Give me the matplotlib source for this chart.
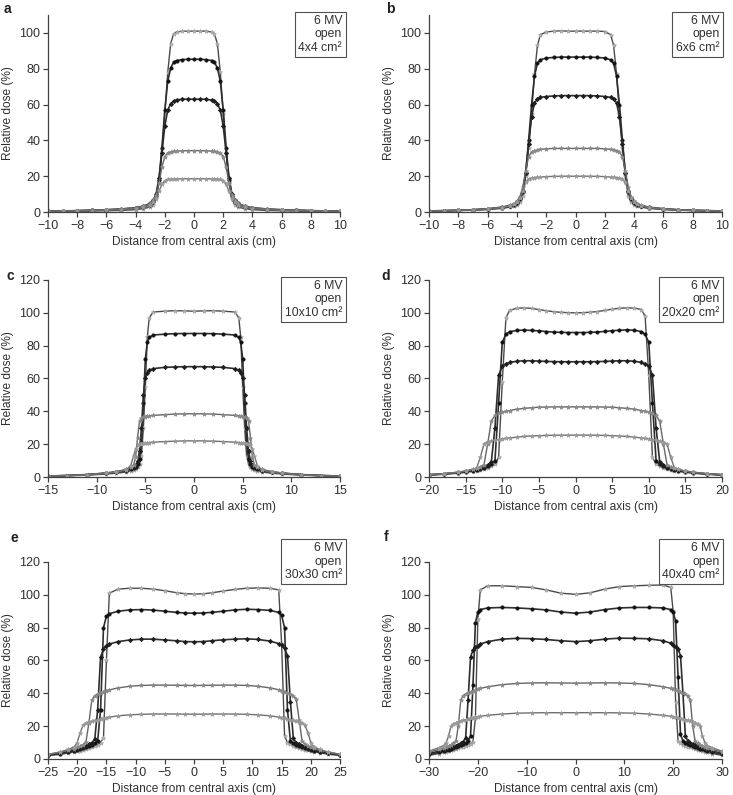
import matplotlib
matplotlib.use('Agg')
import matplotlib.pyplot as plt

# Off-axis dose profiles, 6 MV open fields, five depths per field size
# (order of the curves: dmax, 5, 10, 20, 30 cm)

a_x = [-10, -9, -8, -7, -6, -5, -4, -3.5, -3, -2.8, -2.6, -2.4, -2.2, -2, -1.8, -1.6, -1.4, -1.2, -0.8, -0.4,
       0, 0.4, 0.8, 1.2, 1.4, 1.6, 1.8, 2, 2.2, 2.4, 2.6, 2.8, 3, 3.5, 4, 5, 6, 7, 8, 9, 10]
a_y = [
    [0.4, 0.5, 0.5, 0.6, 0.7, 0.9, 1.3, 1.8, 2.8, 4, 7, 16, 33, 55, 78, 94, 99.5, 100.5, 101, 101,
     101, 101, 101, 100.5, 99.5, 94, 78, 55, 33, 16, 7, 4, 2.8, 1.8, 1.3, 0.9, 0.7, 0.6, 0.5, 0.5, 0.4],
    [0.5, 0.6, 0.7, 0.9, 1.1, 1.4, 2.0, 2.7, 4.2, 5.5, 9, 18, 36, 57, 73, 80.5, 83.5, 84.6, 85.1, 85.3,
     85.3, 85.3, 85.1, 84.6, 83.5, 80.5, 73, 57, 36, 18, 9, 5.5, 4.2, 2.7, 2.0, 1.4, 1.1, 0.9, 0.7, 0.6, 0.5],
    [0.5, 0.6, 0.8, 1.0, 1.3, 1.7, 2.4, 3.2, 4.8, 6.5, 10, 19, 33, 48, 57, 60.5, 62, 62.5, 63, 63,
     63, 63, 63, 62.5, 62, 60.5, 57, 48, 33, 19, 10, 6.5, 4.8, 3.2, 2.4, 1.7, 1.3, 1.0, 0.8, 0.6, 0.5],
    [0.5, 0.6, 0.8, 1.0, 1.3, 1.7, 2.4, 3.2, 4.8, 6.5, 9.5, 16, 25, 31, 33, 33.5, 34, 34, 34.2, 34.3,
     34.3, 34.3, 34.2, 34, 34, 33.5, 33, 31, 25, 16, 9.5, 6.5, 4.8, 3.2, 2.4, 1.7, 1.3, 1.0, 0.8, 0.6, 0.5],
    [0.4, 0.5, 0.6, 0.8, 1.0, 1.3, 1.9, 2.6, 4, 5.5, 8, 11.5, 15.5, 17.5, 18.2, 18.4, 18.5, 18.5, 18.6, 18.6,
     18.6, 18.6, 18.6, 18.5, 18.5, 18.4, 18.2, 17.5, 15.5, 11.5, 8, 5.5, 4, 2.6, 1.9, 1.3, 1.0, 0.8, 0.6, 0.5, 0.4],
]

b_x = [-10, -9, -8, -7, -6, -5, -4.5, -4.2, -4, -3.8, -3.6, -3.4, -3.2, -3, -2.8, -2.6, -2.4, -2, -1.5, -1, -0.5,
       0, 0.5, 1, 1.5, 2, 2.4, 2.6, 2.8, 3, 3.2, 3.4, 3.6, 3.8, 4, 4.2, 4.5, 5, 6, 7, 8, 9, 10]
b_y = [
    [0.5, 0.6, 0.8, 1.0, 1.4, 2.0, 2.7, 3.4, 4.2, 5.5, 9, 20, 36, 55, 77, 93, 99, 100.5, 101, 101.2, 101,
     101, 101, 101, 101, 100.8, 99, 93, 77, 55, 36, 20, 9, 5.5, 4.2, 3.4, 2.7, 2.0, 1.4, 1.0, 0.8, 0.6, 0.5],
    [0.6, 0.7, 0.9, 1.2, 1.6, 2.4, 3.2, 4.2, 5.2, 7, 11, 22, 40, 60, 76, 83, 85, 86, 86.3, 86.5, 86.5,
     86.5, 86.5, 86.5, 86.3, 86, 85, 83, 76, 60, 40, 22, 11, 7, 5.2, 4.2, 3.2, 2.4, 1.6, 1.2, 0.9, 0.7, 0.6],
    [0.6, 0.8, 1.0, 1.3, 1.8, 2.7, 3.6, 4.6, 5.7, 7.8, 12, 22, 38, 53, 61, 63, 64, 64.5, 64.8, 65, 65,
     65, 65, 65, 64.8, 64.5, 64, 63, 61, 53, 38, 22, 12, 7.8, 5.7, 4.6, 3.6, 2.7, 1.8, 1.3, 1.0, 0.8, 0.6],
    [0.6, 0.8, 1.0, 1.3, 1.8, 2.7, 3.7, 4.7, 6, 8.5, 14, 23, 31, 33.5, 34.2, 34.6, 35, 35.3, 35.5, 35.5, 35.5,
     35.5, 35.5, 35.5, 35.5, 35.3, 35, 34.6, 34.2, 33.5, 31, 23, 14, 8.5, 6, 4.7, 3.7, 2.7, 1.8, 1.3, 1.0, 0.8, 0.6],
    [0.5, 0.7, 0.9, 1.2, 1.6, 2.4, 3.3, 4.4, 5.6, 8, 12, 16.5, 18.5, 19, 19.2, 19.4, 19.5, 19.8, 19.9, 20, 20,
     20, 20, 20, 19.9, 19.8, 19.5, 19.4, 19.2, 19, 18.5, 16.5, 12, 8, 5.6, 4.4, 3.3, 2.4, 1.6, 1.2, 0.9, 0.7, 0.5],
]

c_x = [-15, -13, -11, -9, -8, -7, -6.5, -6.2, -6, -5.8, -5.6, -5.4, -5.2, -5, -4.8, -4.6, -4.2, -3, -2, -1,
       0, 1, 2, 3, 4.2, 4.6, 4.8, 5, 5.2, 5.4, 5.6, 5.8, 6, 6.2, 6.5, 7, 8, 9, 11, 13, 15]
c_y = [
    [0.5, 0.7, 1.1, 1.8, 2.3, 3.0, 3.6, 4.2, 4.8, 6, 8, 13, 30, 55, 85, 97, 100.5, 101, 101.3, 101.2,
     101, 101.2, 101.3, 101, 100.5, 97, 85, 55, 30, 13, 8, 6, 4.8, 4.2, 3.6, 3.0, 2.3, 1.8, 1.1, 0.7, 0.5],
    [0.6, 0.9, 1.4, 2.2, 2.9, 3.8, 4.6, 5.4, 6.2, 8, 11, 20, 45, 72, 82, 85, 86.5, 87, 87.3, 87.4,
     87.4, 87.4, 87.3, 87, 86.5, 85, 82, 72, 45, 20, 11, 8, 6.2, 5.4, 4.6, 3.8, 2.9, 2.2, 1.4, 0.9, 0.6],
    [0.6, 0.9, 1.5, 2.4, 3.1, 4.2, 5.2, 6.2, 7.2, 9.5, 16, 30, 50, 60, 63.5, 65, 66, 66.8, 67, 67.2,
     67.2, 67.2, 67, 66.8, 66, 65, 63.5, 60, 50, 30, 16, 9.5, 7.2, 6.2, 5.2, 4.2, 3.1, 2.4, 1.5, 0.9, 0.6],
    [0.6, 0.9, 1.5, 2.5, 3.3, 4.6, 5.8, 7.5, 12, 24, 34, 36, 36.5, 36.8, 37, 37.2, 37.5, 38, 38.3, 38.5,
     38.5, 38.5, 38.3, 38, 37.5, 37.2, 37, 36.8, 36.5, 36, 34, 24, 12, 7.5, 5.8, 4.6, 3.3, 2.5, 1.5, 0.9, 0.6],
    [0.5, 0.8, 1.3, 2.2, 2.9, 4.2, 7, 13, 17, 19.5, 20, 20.3, 20.5, 20.7, 20.9, 21, 21.2, 21.6, 21.8, 22,
     22, 22, 21.8, 21.6, 21.2, 21, 20.9, 20.7, 20.5, 20.3, 20, 19.5, 17, 13, 7, 4.2, 2.9, 2.2, 1.3, 0.8, 0.5],
]

d_x = [-20, -18, -16, -15, -14, -13.5, -13, -12.5, -12, -11.5, -11, -10.5, -10, -9.5, -9, -8, -7, -6, -5, -4, -3, -2, -1,
       0, 1, 2, 3, 4, 5, 6, 7, 8, 9, 9.5, 10, 10.5, 11, 11.5, 12, 12.5, 13, 13.5, 14, 15, 16, 18, 20]
d_y = [
    [1.2, 1.6, 2.3, 2.8, 3.4, 3.8, 4.3, 4.9, 5.6, 6.5, 7.8, 12, 58, 97, 101.5, 102.8, 103, 102.7, 102, 101.3, 100.7, 100.3, 100.1,
     100, 100.1, 100.4, 100.8, 101.5, 102.2, 102.8, 103, 102.9, 102, 98, 62, 12, 7.8, 6.5, 5.6, 4.9, 4.3, 3.8, 3.4, 2.8, 2.3, 1.6, 1.2],
    [1.3, 1.8, 2.6, 3.2, 3.9, 4.4, 5, 5.7, 6.6, 7.7, 10, 45, 82, 87, 88.5, 89.3, 89.5, 89.3, 89, 88.6, 88.3, 88.1, 88,
     88, 88, 88.1, 88.3, 88.7, 89.1, 89.4, 89.6, 89.4, 88.6, 87, 82, 45, 10, 7.7, 6.6, 5.7, 5, 4.4, 3.9, 3.2, 2.6, 1.8, 1.3],
    [1.4, 1.9, 2.8, 3.4, 4.2, 4.8, 5.5, 6.3, 7.3, 9, 30, 62, 67.5, 69, 69.8, 70.5, 70.8, 70.8, 70.6, 70.4, 70.3, 70.2, 70.2,
     70.2, 70.2, 70.2, 70.3, 70.4, 70.6, 70.8, 70.8, 70.5, 69.8, 69, 67.5, 62, 30, 9, 7.3, 6.3, 5.5, 4.8, 4.2, 3.4, 2.8, 1.9, 1.4],
    [1.4, 2.0, 3.0, 3.7, 4.6, 5.3, 6.2, 7.5, 20, 34, 37.5, 38.8, 39.5, 40, 40.5, 41.3, 41.8, 42.2, 42.5, 42.6, 42.7, 42.7, 42.7,
     42.7, 42.7, 42.7, 42.7, 42.6, 42.5, 42.2, 41.8, 41.3, 40.5, 40, 39.5, 38.8, 37.5, 34, 20, 7.5, 6.2, 5.3, 4.6, 3.7, 3.0, 2.0, 1.4],
    [1.3, 1.9, 2.9, 3.6, 4.6, 5.5, 12, 20, 21.5, 22, 22.5, 22.8, 23.2, 23.5, 23.8, 24.3, 24.7, 25, 25.2, 25.3, 25.4, 25.5, 25.5,
     25.5, 25.5, 25.5, 25.4, 25.3, 25.2, 25, 24.7, 24.3, 23.8, 23.5, 23.2, 22.8, 22.5, 22, 21.5, 20, 12, 5.5, 4.6, 3.6, 2.9, 1.9, 1.3],
]

e_x = [-25, -23, -21.5, -20.5, -20, -19.5, -19, -18.5, -18, -17.5, -17, -16.5, -16, -15.5, -15, -14.5, -13, -11, -9, -7, -5, -3, -1.5,
       0, 1.5, 3, 5, 7, 9, 11, 13, 14.5, 15, 15.5, 16, 16.5, 17, 17.5, 18, 18.5, 19, 19.5, 20, 20.5, 21.5, 23, 25]
e_y = [
    [2.0, 2.8, 3.6, 4.3, 4.7, 5.1, 5.6, 6.1, 6.7, 7.3, 8.0, 8.8, 9.8, 13, 60, 101, 103.5, 104, 104, 103.5, 102.5, 101.3, 100.7,
     100.5, 100.6, 101.2, 102.3, 103.3, 104, 104.2, 104, 103, 70, 14, 10, 9, 8.1, 7.4, 6.8, 6.2, 5.7, 5.2, 4.8, 4.4, 3.7, 2.9, 2.1],
    [2.4, 3.3, 4.2, 5.0, 5.4, 5.9, 6.5, 7.1, 7.8, 8.6, 9.5, 11, 30, 80, 87, 88.5, 90, 90.8, 91, 90.7, 90, 89.3, 88.9,
     88.8, 88.9, 89.3, 90, 90.8, 91.2, 91, 90.5, 89.3, 87.5, 80, 30, 11, 9.6, 8.7, 7.9, 7.2, 6.6, 6.0, 5.5, 5.1, 4.3, 3.4, 2.5],
    [2.6, 3.6, 4.6, 5.5, 6.0, 6.6, 7.3, 8.0, 8.9, 9.9, 12, 30, 62, 67, 69, 70, 71.5, 72.5, 73, 73, 72.5, 72, 71.5,
     71.4, 71.5, 72, 72.6, 73, 73.2, 72.8, 71.8, 70.3, 69.3, 67.5, 63, 35, 12.5, 10, 9, 8.1, 7.4, 6.7, 6.1, 5.6, 4.7, 3.7, 2.7],
    [2.8, 4.0, 5.2, 6.3, 7.0, 7.8, 8.8, 10.5, 22, 36, 38.5, 39.5, 40.3, 41, 41.6, 42.1, 43.3, 44.3, 44.8, 45, 45, 44.9, 44.8,
     44.8, 44.8, 44.9, 45, 45, 44.8, 44.3, 43.3, 42.2, 41.7, 41.1, 40.4, 39.6, 38.6, 36.5, 24, 11, 9, 8, 7.1, 6.4, 5.3, 4.1, 2.9],
    [2.8, 4.2, 5.8, 7.5, 10, 16, 20.5, 21.8, 22.5, 23, 23.5, 24, 24.4, 24.8, 25.2, 25.5, 26.3, 26.9, 27.2, 27.4, 27.4, 27.4, 27.3,
     27.3, 27.3, 27.4, 27.4, 27.4, 27.2, 26.9, 26.3, 25.5, 25.2, 24.8, 24.4, 24, 23.5, 23, 22.5, 21.8, 20.5, 16, 10, 7.5, 5.8, 4.2, 2.8],
]

f_x = [-30, -28, -27, -26.5, -26, -25.5, -25, -24.5, -24, -23.5, -23, -22.5, -22, -21.5, -21, -20.5, -20, -19.5, -18, -15, -12, -9, -6, -3,
       0, 3, 6, 9, 12, 15, 18, 19.5, 20, 20.5, 21, 21.5, 22, 22.5, 23, 23.5, 24, 24.5, 25, 25.5, 26, 26.5, 27, 28, 30]
f_y = [
    [2.2, 3.3, 4.0, 4.4, 4.8, 5.2, 5.5, 6.0, 6.5, 7.0, 7.5, 8.0, 8.5, 9.3, 10.5, 25, 85, 103, 105.5, 105.5, 105, 104.5, 103, 101,
     100.3, 101.2, 103.5, 105, 105.5, 105.8, 106, 104.5, 90, 35, 11, 9.5, 8.6, 8.0, 7.5, 7.0, 6.5, 6.0, 5.6, 5.2, 4.8, 4.4, 4.0, 3.3, 2.2],
    [2.8, 4.0, 4.8, 5.2, 5.7, 6.2, 6.7, 7.2, 7.8, 8.4, 9.0, 9.8, 10.8, 14, 45, 83, 89.5, 91, 92, 92.3, 92, 91.5, 90.8, 89.5,
     88.8, 89.5, 91, 92, 92.3, 92.3, 92, 91, 89.5, 84, 50, 15, 11, 10, 9.2, 8.5, 7.9, 7.3, 6.8, 6.3, 5.8, 5.3, 4.9, 4.1, 2.9],
    [3.4, 4.7, 5.5, 6.0, 6.5, 7.0, 7.6, 8.2, 8.8, 9.6, 10.5, 13, 36, 62, 66.5, 68, 69, 70, 71.5, 73, 73.5, 73.3, 72.8, 72,
     71.5, 72, 73, 73.6, 73.5, 73.2, 72, 70.5, 69.5, 68.3, 67, 63, 40, 14, 11, 10, 9.2, 8.5, 7.8, 7.2, 6.6, 6.1, 5.6, 4.8, 3.5],
    [4.2, 5.8, 6.8, 7.4, 8.0, 8.7, 9.5, 10.8, 20, 36, 38.5, 39.5, 40.3, 41, 41.6, 42.1, 42.6, 43, 44, 45.3, 46, 46.3, 46.4, 46.3,
     46.2, 46.3, 46.4, 46.3, 46, 45.3, 44, 43, 42.6, 42.1, 41.6, 41, 40.3, 39.5, 38.5, 36, 20, 10.8, 9.5, 8.7, 8.0, 7.4, 6.8, 5.8, 4.2],
    [4.8, 6.8, 8.2, 10, 14, 20, 21.2, 22, 22.6, 23.1, 23.6, 24, 24.4, 24.8, 25.1, 25.4, 25.7, 26, 26.6, 27.4, 27.9, 28.1, 28.2, 28.2,
     28.2, 28.2, 28.2, 28.1, 27.9, 27.4, 26.6, 26, 25.7, 25.4, 25.1, 24.8, 24.4, 24, 23.6, 23.1, 22.6, 22, 21.2, 20, 14, 10, 8.2, 6.8, 4.8],
]

letters = ['a', 'b', 'c', 'd', 'e', 'f']
fields = ['4x4', '6x6', '10x10', '20x20', '30x30', '40x40']
xlims = [10, 10, 15, 20, 25, 30]
xsteps = [2, 2, 5, 5, 5, 10]
ytops = [110, 110, 120, 120, 120, 120]

profiles = [(a_x, a_y), (b_x, b_y), (c_x, c_y), (d_x, d_y), (e_x, e_y), (f_x, f_y)]

# line / marker style per depth
styles = [
    dict(color='#4a4a4a', lw=1.0, marker='*', ms=3.2, mfc='#b5b5b5', mec='#a5a5a5', mew=0.5),
    dict(color='#2e2e2e', lw=1.2, marker='o', ms=2.4, mfc='#111111', mec='#111111', mew=0.5),
    dict(color='#2e2e2e', lw=1.2, marker='D', ms=2.2, mfc='#1e1e1e', mec='#1e1e1e', mew=0.5),
    dict(color='#666666', lw=1.0, marker='*', ms=3.2, mfc='#8a8a8a', mec='#8a8a8a', mew=0.5),
    dict(color='#707070', lw=1.0, marker='*', ms=3.2, mfc='#9a9a9a', mec='#9a9a9a', mew=0.5),
]

plt.rcParams['font.family'] = ['Liberation Sans', 'DejaVu Sans']
txt = '#303030'

fig = plt.figure(figsize=(7.33, 7.95), dpi=100)
lefts = [0.0655, 0.5853]
widths = [0.3984, 0.3997]
bottoms = [0.7333, 0.400, 0.0453]
letter_pos = [(7, 9), (390, 9), (10, 276), (386, 276), (14, 538), (386, 537)]

for i in range(6):
    col, row = i % 2, i // 2
    ax = fig.add_axes([lefts[col], bottoms[row], widths[col], 0.2478])
    xs, ys = profiles[i]
    for y, st in zip(ys, styles):
        ax.plot(xs, y, **st)

    lim = xlims[i]
    ax.set_xlim(-lim, lim)
    ax.set_ylim(0, ytops[i])
    ax.set_xticks(range(-lim, lim + 1, xsteps[i]))
    ax.set_yticks(range(0, 101 if ytops[i] == 110 else 121, 20))
    for side in ['top', 'right']:
        ax.spines[side].set_visible(False)
    for side in ['left', 'bottom']:
        ax.spines[side].set_color('#404040')
        ax.spines[side].set_linewidth(0.9)
    ax.tick_params(direction='out', length=3.5, width=0.9, color='#404040',
                   labelsize=9, labelcolor=txt, pad=2)
    ax.set_xlabel('Distance from central axis (cm)', fontsize=8.6, color=txt, labelpad=3)
    ax.set_ylabel('Relative dose (%)', fontsize=8.6, color=txt, labelpad=4)

    # field label box
    bx = 1.007 if col == 0 else 0.991
    by = 1.0 if row < 2 else 1.10
    ax.text(bx, by, f'6 MV\nopen\n{fields[i]} cm²', transform=ax.transAxes,
            ha='right', va='top', fontsize=8.8, color=txt, linespacing=1.15,
            bbox=dict(boxstyle='square,pad=0.28', fc='white', ec='#505050', lw=0.8),
            clip_on=False, zorder=5)

    lx, ly = letter_pos[i]
    fig.text(lx / 733, 1 - ly / 795, letters[i], fontsize=10, fontweight='bold',
             color='#202020', ha='center', va='center')

fig.savefig('out.png', dpi=100)
